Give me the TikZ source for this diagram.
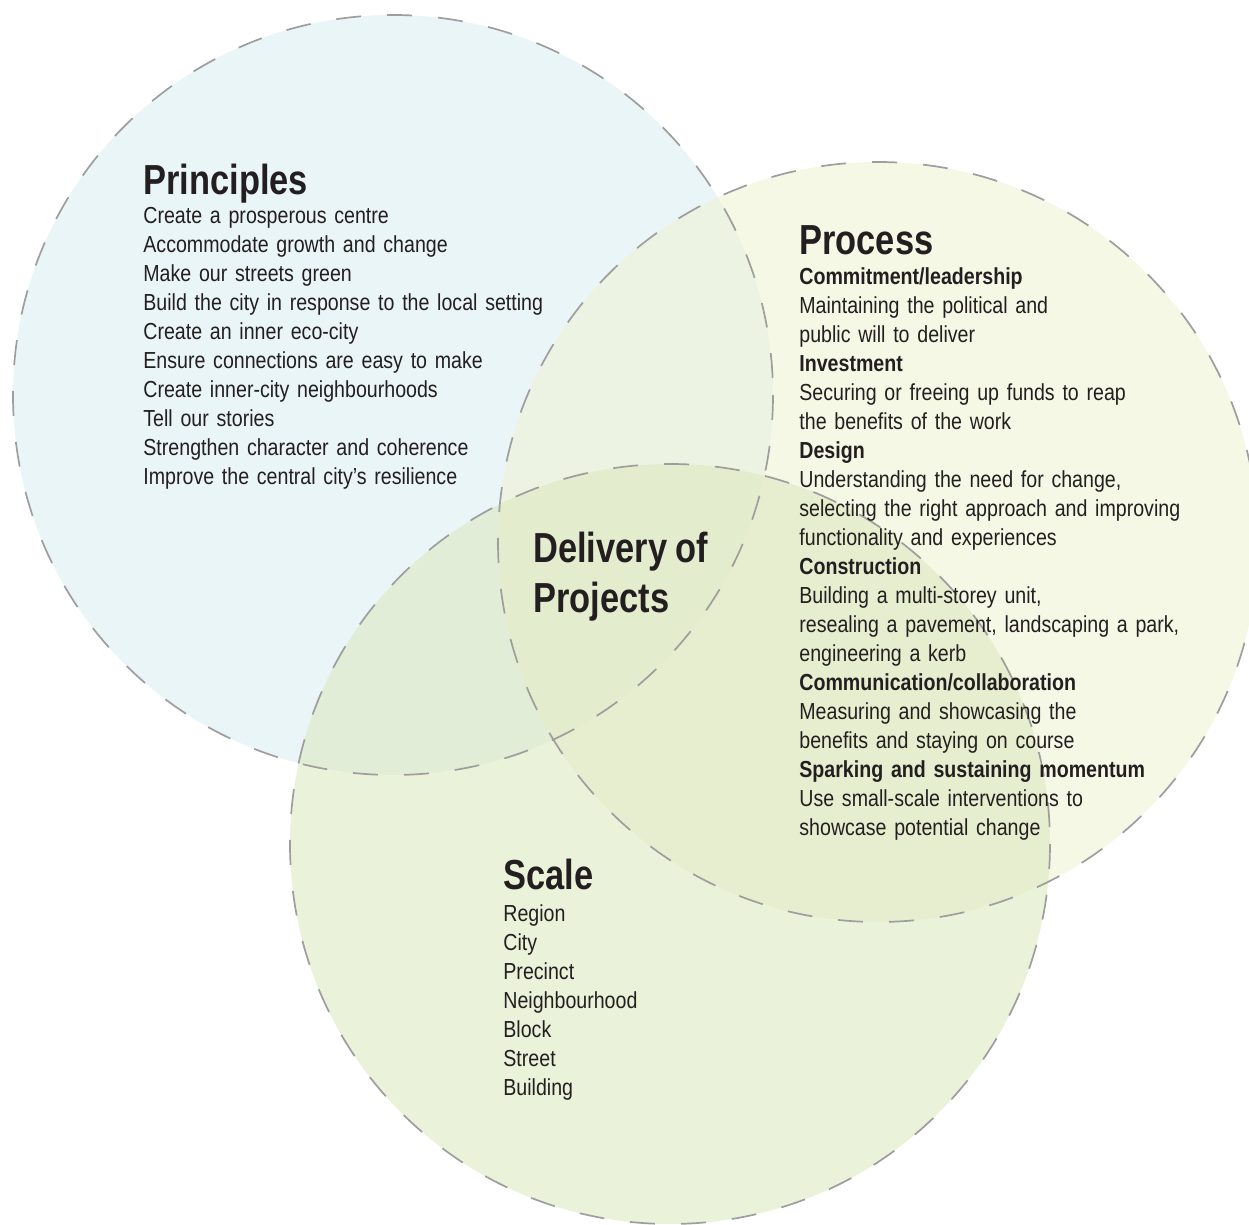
\documentclass[tikz,border=0pt]{standalone}
\usepackage{fontspec}
\setmainfont{Liberation Sans}[FakeStretch=0.845]
\newfontfamily\headfont{Liberation Sans}[FakeStretch=0.82]
\usetikzlibrary{positioning}
\definecolor{prinblue}{RGB}{220,238,243}
\definecolor{procyellow}{RGB}{238,243,212}
\definecolor{scalegreen}{RGB}{222,233,193}
\definecolor{rimgray}{RGB}{158,158,158}
\definecolor{inkblack}{RGB}{35,31,32}

\begin{document}
\begin{tikzpicture}[
    x=0.5pt, y=-0.5pt,
    disc/.style={fill opacity=0.6},
    rim/.style={draw=rimgray, line width=0.85pt, dash pattern=on 12.5pt off 13pt},
    heading/.style={anchor=base west, inner sep=0, text=inkblack, text width=200pt, align=left,
      font={\headfont\bfseries\fontsize{21}{25}\selectfont}},
    body/.style={anchor=base west, inner sep=0, text=inkblack, text width=230pt, align=left,
      font={\fontsize{11.6}{14.5}\selectfont}}
  ]
  \useasboundingbox (0,0) rectangle (1249,1225);
  \clip (0,0) rectangle (1249,1225);

  % the three circles
  \coordinate (cprin) at (393,395);
  \coordinate (cproc) at (878,542);
  \coordinate (cscale) at (670,844);
  \fill[disc, prinblue] (cprin) circle[radius=380];
  \fill[disc, procyellow] (cproc) circle[radius=380];
  \fill[disc, scalegreen] (cscale) circle[radius=380];
  \draw[rim] (cprin) circle[radius=380];
  \draw[rim] (cproc) circle[radius=380];
  \draw[rim] (cscale) circle[radius=380];

  % principles
  \node[heading] (prin) at (143,195) {Principles};
  \node[body] (prinlist) at (143,224) {Create a prosperous centre\\
    Accommodate growth and change\\
    Make our streets green\\
    Build the city in response to the local setting\\
    Create an inner eco-city\\
    Ensure connections are easy to make\\
    Create inner-city neighbourhoods\\
    Tell our stories\\
    Strengthen character and coherence\\
    Improve the central city’s resilience};

  % process
  \node[heading] (proc) at (799,255) {Process};
  \node[body] (proclist) at (799,285) {\textbf{Commitment/leadership}\\
    Maintaining the political and\\
    public will to deliver\\
    \textbf{Investment}\\
    Securing or freeing up funds to reap\\
    the benefits of the work\\
    \textbf{Design}\\
    Understanding the need for change,\\
    selecting the right approach and improving\\
    functionality and experiences\\
    \textbf{Construction}\\
    Building a multi-storey unit,\\
    resealing a pavement, landscaping a park,\\
    engineering a kerb\\
    \textbf{Communication/collaboration}\\
    Measuring and showcasing the\\
    benefits and staying on course\\
    \textbf{Sparking and sustaining momentum}\\
    Use small-scale interventions to\\
    showcase potential change};

  % scale
  \node[heading] (scale) at (503,889) {Scale};
  \node[body] (scalelist) at (503,921) {Region\\
    City\\
    Precinct\\
    Neighbourhood\\
    Block\\
    Street\\
    Building};

  % centre
  \node[heading] (deliv) at (533,562) {Delivery\hspace{-3pt} of\\Projects};
\end{tikzpicture}
\end{document}
